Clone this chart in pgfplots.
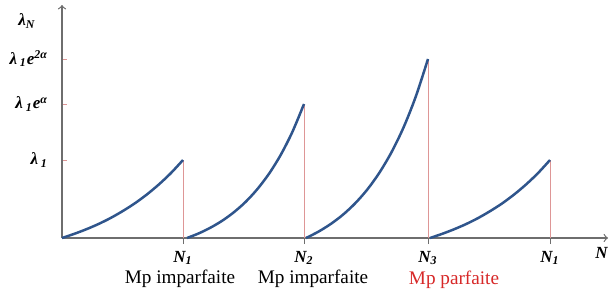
\documentclass[border=0pt]{standalone}
\usepackage{pgfplots}
\pgfplotsset{compat=1.18}
\usepackage{fontspec}
\setmainfont{Liberation Serif}
\definecolor{curve}{RGB}{47,85,140}
\definecolor{vline}{RGB}{222,150,150}
\definecolor{axgray}{RGB}{110,110,110}
\definecolor{lblred}{RGB}{215,40,40}
\newcommand{\bi}[1]{\mbox{\fontsize{8.5}{9.5}\selectfont\bfseries\itshape #1}}
\begin{document}
\begin{tikzpicture}
\begin{axis}[
  x=0.5pt, y=0.5pt,
  xmin=0, xmax=546, ymin=0, ymax=233,
  axis lines=left,
  axis line style={axgray, line width=0.6pt, ->},
  clip=false,
  xtick={121,242,366,488},
  xticklabels={\bi{N\textsubscript{1}},\bi{N\textsubscript{2}},\bi{N\textsubscript{3}},\bi{N\textsubscript{1}}},
  ytick={78,134,179},
  yticklabels={\bi{λ\,\textsubscript{1}},\bi{λ\,\textsubscript{1}e\textsuperscript{α}},\bi{λ\,\textsubscript{1}e\textsuperscript{2α}}},
  tick align=outside,
  major tick length=3pt,
  x tick style={axgray, line width=0.5pt},
  y tick style={vline, line width=0.5pt, xshift=2.5pt},
  yticklabel style={xshift=-0.5pt},
]
% red vertical lines
\addplot[vline, line width=0.5pt] coordinates {(121,0) (121,78)};
\addplot[vline, line width=0.5pt] coordinates {(242,0) (242,134)};
\addplot[vline, line width=0.5pt] coordinates {(366,0) (366,179)};
\addplot[vline, line width=0.5pt] coordinates {(488,0) (488,78)};
% curves
\addplot[curve, line width=1.25pt, smooth] coordinates {
(0,0) (12.1,4.1) (24.2,8.7) (36.3,13.9) (48.4,19.9) (60.5,26.8) (72.6,34.5) (84.7,43.4) (96.8,53.5) (108.9,64.9) (121,78)};
\addplot[curve, line width=1.25pt, smooth] coordinates {
(125,0) (136.7,4.6) (148.4,10.3) (160.1,17.2) (171.8,25.7) (183.5,36.0) (195.2,48.7) (206.9,64.1) (218.6,82.9) (230.3,105.9) (242,134)};
\addplot[curve, line width=1.25pt, smooth] coordinates {
(244,0) (256.2,6.2) (268.4,13.8) (280.6,23.0) (292.8,34.3) (305,48.1) (317.2,65.0) (329.4,85.6) (341.6,110.7) (353.8,141.5) (366,179)};
\addplot[curve, line width=1.25pt, smooth] coordinates {
(368,0) (380,4.1) (392,8.7) (404,13.9) (416,19.9) (428,26.8) (440,34.5) (452,43.4) (464,53.5) (476,64.9) (488,78)};
% labels
\node at (axis cs:-35,217) {\bi{λ\textsubscript{N}}};
\node[anchor=east, inner sep=0.5pt] at (axis cs:547,-15) {\bi{N}};
\node at (axis cs:118,-41) {\fontsize{9.6}{11}\selectfont Mp imparfaite};
\node at (axis cs:251,-41) {\fontsize{9.6}{11}\selectfont Mp imparfaite};
\node[text=lblred] at (axis cs:392,-42) {\fontsize{9.6}{11}\selectfont Mp parfaite};
\coordinate (bl) at (axis cs:-62,-57);
\coordinate (tr) at (axis cs:547,238);
\end{axis}
\pgfresetboundingbox
\path (bl) rectangle (tr);
\end{tikzpicture}
\end{document}
